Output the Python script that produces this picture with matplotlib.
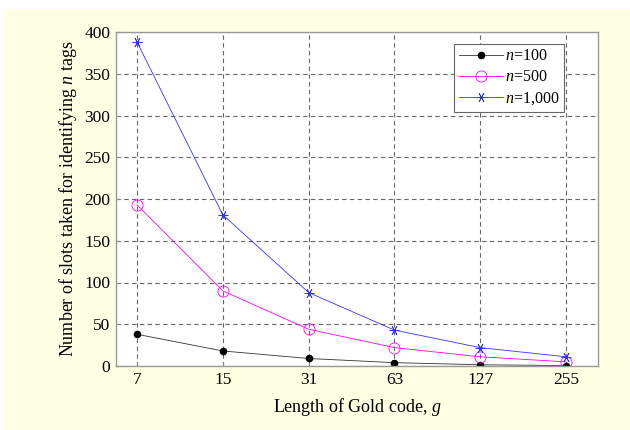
import matplotlib.pyplot as plt
from matplotlib.patches import Rectangle

# Data
gold_len = ['7', '15', '31', '63', '127', '255']
n100 = [38, 18, 9, 4, 1.5, 0.5]
n500 = [193, 90, 44, 22, 11, 5]
n1000 = [388, 181, 88, 43, 22, 11]

plt.rcParams['font.family'] = ['Liberation Serif', 'DejaVu Serif']
plt.rcParams['mathtext.fontset'] = 'custom'
plt.rcParams['mathtext.it'] = 'Liberation Serif:italic'
plt.rcParams['mathtext.rm'] = 'Liberation Serif'

fig = plt.figure(figsize=(6.3, 4.3), dpi=100, facecolor='white')
# light yellow panel behind the axes
fig.patches.append(Rectangle((4/630, 0), 1, 1 - 9/430, transform=fig.transFigure,
                             facecolor='#FFFFE3', edgecolor='none', zorder=-10))

ax = fig.add_axes([116/630, 64/430, 482/630, 334/430])
ax.set_facecolor('white')

x = list(range(1, len(gold_len) + 1))
ax.plot(x, n100, color='#333333', lw=0.6, marker='o', ms=4.5,
        mfc='black', mec='black', label='$n$=100')
ax.plot(x, n500, color='#FF00FF', lw=0.6, marker='o', ms=8,
        mfc='none', mec='#FF00FF', mew=0.6, label='$n$=500')
ax.plot(x, n1000, color='#3333FF', lw=0.6, marker=(6, 2, 90), ms=7,
        mec='#3333FF', mew=0.6, label='$n$=1,000')

ax.set_xlim(0.755, 6.373)
ax.set_ylim(0, 400)
ax.set_xticks(x)
ax.set_xticklabels(gold_len)
ax.set_yticks(range(0, 401, 50))
ax.tick_params(labelsize=12.5, direction='in', length=3, color='#888888', pad=4)
for s in ax.spines.values():
    s.set_color('#999999')
    s.set_linewidth(1.0)
ax.grid(True, ls=(0, (4, 3)), color='#666666', lw=0.8)

ax.set_xlabel('Length of Gold code, $g$', fontsize=13, labelpad=6)
ax.set_ylabel('Number of slots taken for identifying $n$ tags', fontsize=13)

leg = ax.legend(loc='upper right', bbox_to_anchor=(0.93, 0.965), fontsize=11.5,
                fancybox=False, framealpha=1, edgecolor='#666666',
                handlelength=2.8, handletextpad=0.1, borderpad=0.3,
                borderaxespad=0, labelspacing=0.3)
leg.get_frame().set_linewidth(0.8)

fig.savefig('out.png', dpi=100, facecolor=fig.get_facecolor())
